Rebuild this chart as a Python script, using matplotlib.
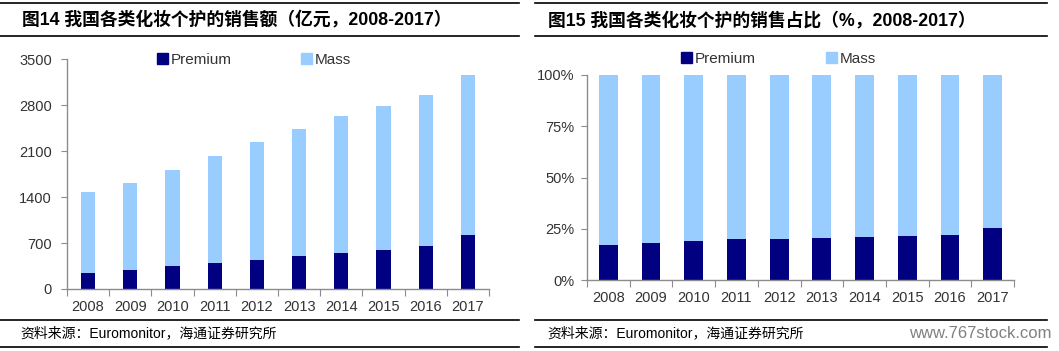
import numpy as np
import matplotlib
matplotlib.use("Agg")
import matplotlib.pyplot as plt
from matplotlib.lines import Line2D
from matplotlib.patches import Patch
from matplotlib.ticker import FuncFormatter

plt.rcParams['font.family'] = ['Liberation Sans', 'Noto Sans CJK SC', 'DejaVu Sans']

# data
years = ["2008", "2009", "2010", "2011", "2012", "2013", "2014", "2015", "2016", "2017"]
premium = [243, 289, 345, 401, 446, 507, 553, 593, 654, 827]          # 亿元
total = [1471, 1613, 1811, 2029, 2237, 2445, 2632, 2795, 2957, 3256]
mass = [t - p for t, p in zip(total, premium)]

premium_share = [17.3, 18.3, 19.3, 20.1, 20.1, 20.6, 21.1, 21.6, 22.0, 25.3]  # %
mass_share = [100 - s for s in premium_share]

title_left = "图14 我国各类化妆个护的销售额（亿元，2008-2017）"
title_right = "图15 我国各类化妆个护的销售占比（%，2008-2017）"
source = "资料来源：Euromonitor，海通证券研究所"

c_prem = "#000080"
c_mass = "#99CCFF"
c_axis = "#8c8c8c"
c_text = "#333333"

W, H = 1059, 351
fig = plt.figure(figsize=(W / 100, H / 100), dpi=100)


def fx(px):
    return px / W


def fy(py):
    return 1 - py / H


def style_axes(ax, ypad):
    ax.spines['top'].set_visible(False)
    ax.spines['right'].set_visible(False)
    for s in ('left', 'bottom'):
        ax.spines[s].set_color(c_axis)
        ax.spines[s].set_linewidth(1.0)
    n = len(years)
    ax.set_xlim(-0.5, n - 0.5)
    ax.set_xticks(np.arange(n + 1) - 0.5)
    ax.set_xticklabels([])
    ax.set_xticks(np.arange(n), minor=True)
    ax.set_xticklabels(years, minor=True)
    ax.tick_params(axis='x', which='major', length=5, color=c_axis, direction='out')
    ax.tick_params(axis='x', which='minor', length=0, pad=8, labelsize=10.5, labelcolor=c_text)
    ax.tick_params(axis='y', length=4, color=c_axis, direction='out', labelsize=10.5,
                   labelcolor=c_text, pad=ypad)


x = np.arange(len(years))

# left chart
ax1 = fig.add_axes([fx(67), fy(289), fx(489 - 67), (289 - 59.3) / H])
ax1.bar(x, premium, width=0.34, color=c_prem, label="Premium")
ax1.bar(x, mass, bottom=premium, width=0.34, color=c_mass, label="Mass")
ax1.set_ylim(0, 3500)
ax1.set_yticks([0, 700, 1400, 2100, 2800, 3500])
style_axes(ax1, 7)

# right chart
ax2 = fig.add_axes([fx(587), fy(280.3), fx(1014 - 587), (280.3 - 74.7) / H])
ax2.bar(x, premium_share, width=0.44, color=c_prem, label="Premium")
ax2.bar(x, mass_share, bottom=premium_share, width=0.44, color=c_mass, label="Mass")
ax2.set_ylim(0, 100)
ax2.set_yticks([0, 25, 50, 75, 100])
ax2.yaxis.set_major_formatter(FuncFormatter(lambda v, p: f"{v:.0f}%"))
style_axes(ax2, 5)

handles = [Patch(color=c_prem), Patch(color=c_mass)]
for lx, ly, gap in [(157, 60, 4.5), (681, 59, 4.6)]:
    fig.legend(handles, ["Premium", "Mass"], ncol=2, frameon=False,
               loc='center left', bbox_to_anchor=(fx(lx), fy(ly)),
               borderpad=0, borderaxespad=0, handlelength=0.75, handleheight=0.75,
               handletextpad=0.15, columnspacing=gap, fontsize=11,
               labelcolor=c_text)

# frame lines, titles, sources
for x0, x1 in [(0, 519), (535, 1047)]:
    for yy in (3, 36, 320, 347):
        fig.add_artist(Line2D([fx(x0), fx(x1)], [fy(yy), fy(yy)], color='black', lw=1.2))

fig.text(fx(22), fy(20), title_left, fontsize=12.8, fontweight='bold', va='center', ha='left')
fig.text(fx(548), fy(20), title_right, fontsize=12.8, fontweight='bold', va='center', ha='left')
fig.text(fx(20), fy(333), source, fontsize=10, va='center', ha='left')
fig.text(fx(547), fy(333), source, fontsize=10, va='center', ha='left')
fig.text(fx(1052), fy(333), "www.767stock.com", fontsize=12, color="#808080", va='center', ha='right')

fig.savefig("out.png", dpi=100)
